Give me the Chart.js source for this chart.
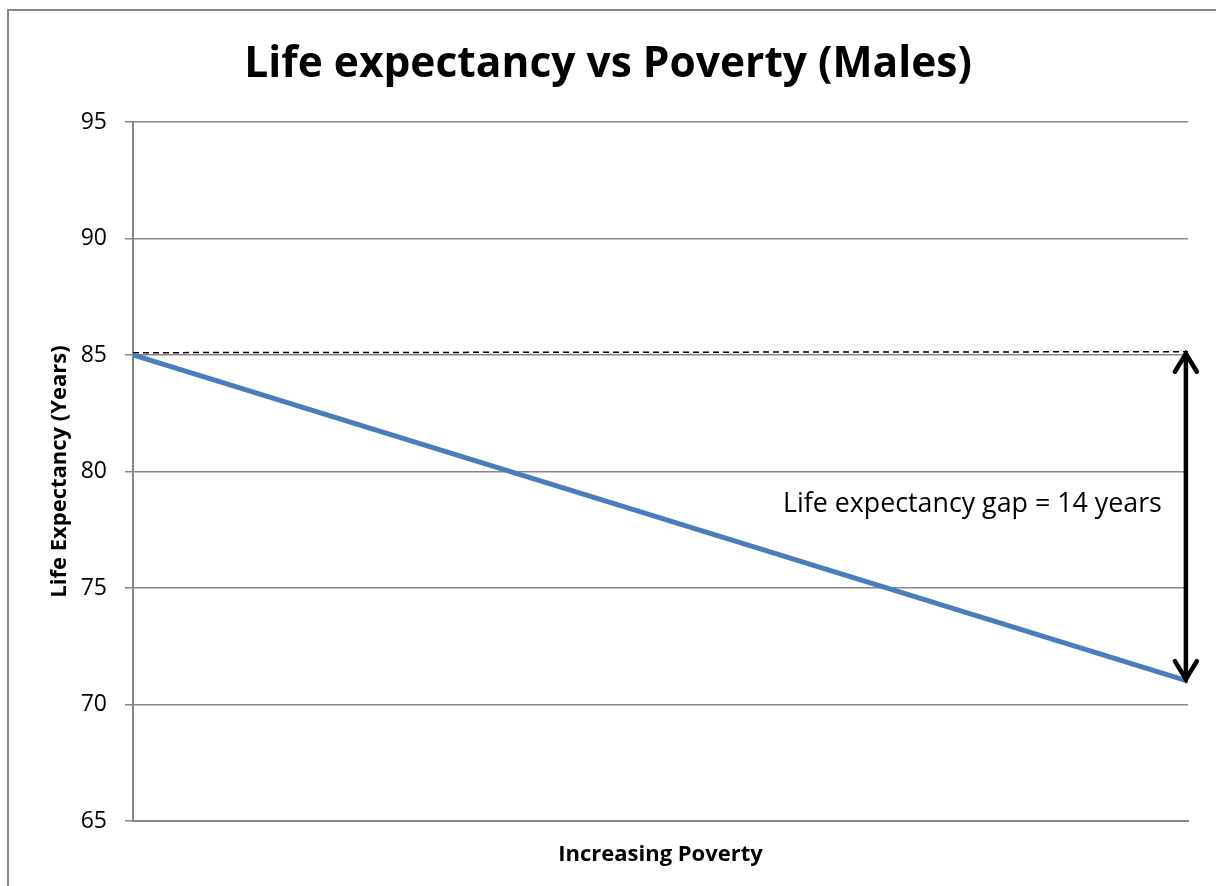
<!DOCTYPE html>
<html>
<head>
<meta charset="utf-8">
<title>Life expectancy vs Poverty (Males)</title>
<script src="https://cdn.jsdelivr.net/npm/chart.js@4"></script>
<style>
  html, body { margin: 0; padding: 0; background: #fff; }
  #wrap { position: relative; width: 1216px; height: 886px; overflow: hidden; }
  /* outer frame of the original sheet (only top and left edges are visible) */
  #frame {
    position: absolute; left: 7px; top: 9px; width: 1300px; height: 1000px;
    border-left: 2px solid #888; border-top: 2px solid #888;
  }
  canvas { position: absolute; left: 0; top: 0; }
</style>
</head>
<body>
<div id="wrap">
  <div id="frame"></div>
  <canvas id="lifeChart" width="1216" height="886"></canvas>
</div>
<script>
// Data
const povertyLevels = [0, 1];          // left = least poor, right = most poor
const lifeExpectancy = [85, 71];       // male life expectancy (years)
const refLevel = [85.1, 85.14];        // dashed reference line at the starting level
const gapArrowX = 0.998;               // where the gap arrow stands
const gapTop = 85.14;
const gapBottom = 71;
const gapLabel = 'Life expectancy gap = 14 years';
const gapLabelY = 78.6;

const FONT = '"Open Sans", sans-serif';

/**
 * Draws the double headed arrow and its label
 */
const gapArrow = {
    id: 'gapArrow',
    afterDatasetsDraw(chart) {
        const { ctx, scales: { x, y } } = chart;
        const px = x.getPixelForValue(gapArrowX);
        const top = y.getPixelForValue(gapTop);
        const bottom = y.getPixelForValue(gapBottom);
        const headW = 11, headH = 20;

        ctx.save();
        ctx.strokeStyle = '#000';
        ctx.lineWidth = 4.5;
        ctx.lineCap = 'round';
        ctx.lineJoin = 'miter';

        ctx.beginPath();
        ctx.moveTo(px, top + 2);
        ctx.lineTo(px, bottom - 2);
        ctx.stroke();

        // top head
        ctx.beginPath();
        ctx.moveTo(px - headW, top + headH);
        ctx.lineTo(px, top + 2);
        ctx.lineTo(px + headW, top + headH);
        ctx.stroke();

        // bottom head
        ctx.beginPath();
        ctx.moveTo(px - headW, bottom - headH);
        ctx.lineTo(px, bottom - 2);
        ctx.lineTo(px + headW, bottom - headH);
        ctx.stroke();

        // label
        ctx.fillStyle = '#000';
        ctx.font = '26.8px ' + FONT;
        ctx.textAlign = 'right';
        ctx.textBaseline = 'middle';
        ctx.fillText(gapLabel, px - 24, y.getPixelForValue(gapLabelY));
        ctx.restore();
    }
};

const ctx = document.getElementById('lifeChart').getContext('2d');
new Chart(ctx, {
    type: 'line',
    data: {
        datasets: [
            {
                label: 'Males',
                data: povertyLevels.map((p, i) => ({ x: p, y: lifeExpectancy[i] })),
                borderColor: '#4a7ebb',
                borderWidth: 5,
                pointRadius: 0,
                tension: 0,
                order: 1
            },
            {
                label: 'Reference',
                data: povertyLevels.map((p, i) => ({ x: p, y: refLevel[i] })),
                borderColor: '#000',
                borderWidth: 1.5,
                borderDash: [6, 4],
                pointRadius: 0,
                order: 2
            }
        ]
    },
    options: {
        responsive: false,
        animation: false,
        events: [],
        layout: {
            padding: { top: 0, right: 28, bottom: 0, left: 28 }
        },
        plugins: {
            legend: { display: false },
            tooltip: { enabled: false },
            title: {
                display: true,
                text: 'Life expectancy vs Poverty (Males)',
                color: '#000',
                font: { family: FONT, size: 42.5, weight: 'bold', lineHeight: 1.2 },
                padding: { top: 39, bottom: 32 }
            }
        },
        scales: {
            x: {
                type: 'linear',
                min: 0,
                max: 1,
                ticks: { display: false },
                grid: { display: false, drawTicks: false },
                border: { display: true, color: '#878787', width: 2 },
                title: {
                    display: true,
                    text: 'Increasing Poverty',
                    color: '#000',
                    font: { family: FONT, size: 22, weight: 'bold', lineHeight: 1.2 },
                    padding: { top: 0, bottom: 18 }
                },
                afterFit(scale) { scale.height = 65; }
            },
            y: {
                min: 65,
                max: 95,
                ticks: {
                    stepSize: 5,
                    color: '#000',
                    padding: 18,
                    font: { family: FONT, size: 23 }
                },
                grid: { color: '#878787', lineWidth: 1.5, tickLength: 8 },
                border: { display: true, color: '#878787', width: 2 },
                title: {
                    display: true,
                    text: 'Life Expectancy (Years)',
                    color: '#000',
                    font: { family: FONT, size: 22, weight: 'bold', lineHeight: 1.2 },
                    padding: { top: 19, bottom: 0 }
                },
                afterFit(scale) { scale.width = 105; }
            }
        }
    },
    plugins: [gapArrow]
});
</script>
</body>
</html>
